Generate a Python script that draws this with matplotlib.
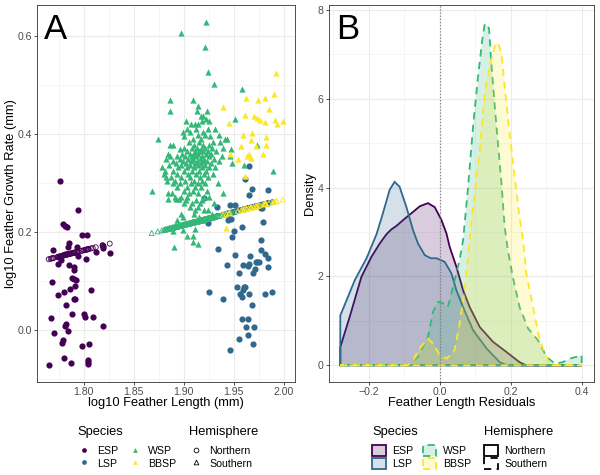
import numpy as np
import matplotlib
matplotlib.use("Agg")
import matplotlib.pyplot as plt
from matplotlib.lines import Line2D
from matplotlib.patches import Patch
from matplotlib.colors import to_rgba

plt.rcParams['font.family'] = ['Liberation Sans', 'DejaVu Sans']

# ---------------- data ----------------
species = ["ESP", "LSP", "WSP", "BBSP"]
species_colors = ["#440154", "#31688E", "#35B779", "#FDE725"]
species_hemisphere = ["Northern", "Northern", "Southern", "Southern"]
hemisphere_labels = ["Northern", "Southern"]

# fitted line (mixed-model prediction) used for the open markers
fit_intercept = -0.773
fit_slope = 0.52

esp_x = [1.776, 1.7947, 1.779, 1.781, 1.783, 1.798, 1.803, 1.785, 1.784, 1.769,
         1.819, 1.819, 1.826, 1.794, 1.802, 1.777, 1.774, 1.785, 1.790, 1.790,
         1.768, 1.788, 1.790, 1.792, 1.791, 1.786, 1.807, 1.780, 1.774, 1.790,
         1.791, 1.782, 1.767, 1.788, 1.800, 1.801, 1.809, 1.782, 1.781, 1.784,
         1.819, 1.770, 1.779, 1.778, 1.798, 1.805, 1.780, 1.787, 1.804, 1.804,
         1.804, 1.765, 1.775, 1.781, 1.793, 1.812]
esp_y = [0.304, 0.246, 0.216, 0.213, 0.211, 0.195, 0.195, 0.178, 0.169, 0.163,
         0.172, 0.168, 0.157, 0.152, 0.145, 0.143, 0.135, 0.132, 0.128, 0.123,
         0.099, 0.107, 0.104, 0.102, 0.091, 0.085, 0.082, 0.078, 0.071, 0.063,
         0.063, 0.052, 0.024, 0.033, 0.033, 0.027, 0.028, 0.012, 0.009, -0.001,
         0.008, -0.005, -0.019, -0.027, -0.033, -0.028, -0.056, -0.066, -0.060, -0.064,
         -0.068, -0.071, 0.150, 0.155, 0.169, 0.160]

lsp_x = [1.9657, 1.9617, 1.968, 1.984, 1.965, 1.920, 1.9463, 1.9513, 1.9333, 1.977,
         1.9787, 1.984, 1.9447, 1.9477, 1.944, 1.979, 1.9243, 1.9587, 1.9507, 1.9487,
         1.9777, 1.934, 1.9513, 1.977, 1.981, 1.984, 1.9667, 1.9737, 1.972, 1.975,
         1.9433, 1.959, 1.9643, 1.9657, 1.9717, 1.9847, 1.9553, 1.969, 1.953, 1.960,
         1.961, 1.959, 1.9257, 1.9563, 1.9653, 1.981, 1.9887, 1.958, 1.9397, 1.9687,
         1.9587, 1.9643, 1.9627, 1.9707, 1.9553, 1.9643, 1.9697, 1.9463]
lsp_y = [0.335, 0.308, 0.288, 0.286, 0.275, 0.270, 0.255, 0.255, 0.252, 0.249,
         0.249, 0.259, 0.237, 0.226, 0.224, 0.220, 0.218, 0.210, 0.203, 0.191,
         0.184, 0.166, 0.154, 0.163, 0.156, 0.147, 0.151, 0.139, 0.139, 0.139,
         0.132, 0.132, 0.131, 0.135, 0.125, 0.129, 0.116, 0.116, 0.088, 0.088,
         0.088, 0.082, 0.078, 0.074, 0.074, 0.074, 0.078, 0.067, 0.064, 0.052,
         0.022, 0.022, 0.007, 0.007, -0.018, -0.010, -0.028, -0.041]

wsp_x = [1.922,
         1.897,
         1.921,
         1.924,
         1.930,
         1.958,
         1.886, 1.909,
         1.914,
         1.886, 1.913, 1.923,
         1.919, 1.917,
         1.951, 1.922,
         1.902, 1.925, 1.918,
         1.907, 1.914, 1.911,
         1.912, 1.924, 1.931, 1.903,
         1.899, 1.906, 1.919,
         1.935, 1.921, 1.914,
         1.900, 1.926,
         1.874, 1.941, 1.943, 1.909, 1.917,
         1.905, 1.915, 1.929, 1.936,
         1.886, 1.889, 1.910, 1.919, 1.925, 1.973,
         1.900, 1.908, 1.913, 1.921, 1.928, 1.939,
         1.947, 1.896, 1.917,
         1.903, 1.911, 1.915, 1.919, 1.924, 1.932,
         1.884, 1.898, 1.906, 1.910, 1.914, 1.922, 1.927,
         1.886, 1.893, 1.901, 1.908, 1.912, 1.918, 1.925, 1.938, 1.946,
         1.882, 1.896, 1.904, 1.909, 1.916, 1.920, 1.930,
         1.889, 1.899, 1.907, 1.913, 1.919, 1.923, 1.935,
         1.948, 1.892, 1.902, 1.911, 1.917, 1.927,
         1.960, 1.885, 1.897, 1.906, 1.914, 1.921,
         1.878, 1.894, 1.903, 1.910, 1.918, 1.925, 1.931,
         1.989, 1.881, 1.889, 1.900, 1.908, 1.915, 1.922,
         1.880, 1.893, 1.904, 1.912, 1.920, 1.929,
         1.882, 1.887, 1.897, 1.906, 1.916, 1.924,
         1.883, 1.891, 1.901, 1.910, 1.918,
         1.889, 1.896, 1.907, 1.914, 1.921, 1.934,
         1.893, 1.903, 1.911, 1.917,
         1.868, 1.900, 1.909, 1.923,
         1.884, 1.888, 1.939, 1.905, 1.914,
         1.891, 1.897, 1.903, 1.920, 1.925,
         1.884, 1.892, 1.895,
         1.902, 1.912, 1.918,
         1.900, 1.908, 1.916, 1.930,
         1.906, 1.914,
         1.911, 1.920, 1.924,
         1.897, 1.910, 1.928,
         1.899, 1.915,
         1.893, 1.918,
         1.911,
         1.899,
         1.889,
         1.903, 1.909,
         1.909,
         1.914,
         1.890]
wsp_y = [0.629,
         0.605,
         0.578,
         0.526,
         0.501,
         0.491,
         0.469, 0.469,
         0.457,
         0.446, 0.446, 0.446,
         0.437, 0.437,
         0.430, 0.430,
         0.426, 0.426, 0.426,
         0.420, 0.420, 0.420,
         0.410, 0.410, 0.410, 0.410,
         0.405, 0.405, 0.405,
         0.399, 0.399, 0.399,
         0.395, 0.395,
         0.389, 0.389, 0.389, 0.389, 0.389,
         0.383, 0.383, 0.383, 0.383,
         0.378, 0.378, 0.378, 0.378, 0.378, 0.378,
         0.372, 0.372, 0.372, 0.372, 0.372, 0.372,
         0.369, 0.369, 0.369,
         0.365, 0.365, 0.365, 0.365, 0.365, 0.365,
         0.360, 0.360, 0.360, 0.360, 0.360, 0.360, 0.360,
         0.355, 0.355, 0.355, 0.355, 0.355, 0.355, 0.355, 0.355, 0.355,
         0.350, 0.350, 0.350, 0.350, 0.350, 0.350, 0.350,
         0.345, 0.345, 0.345, 0.345, 0.345, 0.345, 0.345,
         0.341, 0.341, 0.341, 0.341, 0.341, 0.341,
         0.337, 0.337, 0.337, 0.337, 0.337, 0.337,
         0.332, 0.332, 0.332, 0.332, 0.332, 0.332, 0.332,
         0.325, 0.325, 0.325, 0.325, 0.325, 0.325, 0.325,
         0.318, 0.318, 0.318, 0.318, 0.318, 0.318,
         0.312, 0.312, 0.312, 0.312, 0.312, 0.312,
         0.305, 0.305, 0.305, 0.305, 0.305,
         0.300, 0.300, 0.300, 0.300, 0.300, 0.300,
         0.292, 0.292, 0.292, 0.292,
         0.284, 0.284, 0.284, 0.284,
         0.280, 0.280, 0.280, 0.280, 0.280,
         0.272, 0.272, 0.272, 0.272, 0.272,
         0.268, 0.268, 0.268,
         0.266, 0.266, 0.266,
         0.260, 0.260, 0.260, 0.260,
         0.252, 0.252,
         0.245, 0.245, 0.245,
         0.236, 0.236, 0.236,
         0.230, 0.230,
         0.224, 0.224,
         0.207,
         0.205,
         0.203,
         0.192, 0.192,
         0.180,
         0.176,
         0.170]

bbsp_x = [1.9927, 1.9627, 1.9743, 1.981, 1.990, 1.9393, 1.9853, 1.970, 1.9733, 1.976,
          1.981, 1.961, 1.991, 1.993, 1.999, 1.945, 1.9593, 1.968, 1.982, 1.967,
          1.9577, 1.972, 1.9823, 1.946, 1.9543, 1.963, 1.965, 1.967, 1.9797, 1.961,
          1.9427]
bbsp_y = [0.524, 0.473, 0.469, 0.473, 0.482, 0.456, 0.450, 0.437, 0.433, 0.428,
          0.425, 0.439, 0.428, 0.420, 0.427, 0.423, 0.398, 0.403, 0.393, 0.388,
          0.375, 0.375, 0.378, 0.359, 0.350, 0.355, 0.360, 0.352, 0.359, 0.315,
          0.208]

# density curves of feather length residuals
esp_res = [-0.280, -0.2535, -0.2206, -0.1924, -0.169, -0.150, -0.136, -0.120, -0.103, -0.080,
           -0.056, -0.033, -0.014, 0.005, 0.019, 0.028, 0.047, 0.066, 0.0845, 0.113,
           0.150, 0.188, 0.225, 0.244, 0.300, 0.400]
esp_dens = [0.41, 1.09, 1.99, 2.44, 2.74, 2.95, 3.06, 3.15, 3.27, 3.42,
            3.58, 3.65, 3.56, 3.27, 2.97, 2.67, 2.22, 1.69, 1.31, 0.86,
            0.53, 0.30, 0.07, 0.0, 0.0, 0.0]
lsp_res = [-0.280, -0.239, -0.206, -0.178, -0.160, -0.141, -0.127, -0.113, -0.094, -0.075,
           -0.061, -0.042, -0.025, -0.009, 0.014, 0.033, 0.047, 0.066, 0.094, 0.132,
           0.169, 0.190, 0.300, 0.400]
lsp_dens = [1.12, 1.92, 2.41, 2.95, 3.42, 3.95, 4.13, 4.02, 3.57, 3.04,
            2.74, 2.48, 2.41, 2.41, 2.33, 2.07, 1.69, 1.31, 0.79, 0.38,
            0.07, 0.0, 0.0, 0.0]
wsp_res = [-0.280, -0.100, -0.0845, -0.061, -0.033, -0.019, -0.005, 0.009, 0.023, 0.0375,
           0.056, 0.066, 0.080, 0.094, 0.108, 0.120, 0.127, 0.139, 0.146, 0.160,
           0.174, 0.183, 0.192, 0.206, 0.225, 0.249, 0.277, 0.301, 0.324, 0.347,
           0.366, 0.385, 0.400]
wsp_dens = [0.0, 0.0, 0.02, 0.19, 0.64, 1.20, 1.43, 1.40, 1.31, 1.76,
            2.37, 2.82, 4.02, 5.37, 6.50, 7.33, 7.69, 7.59, 6.73, 5.37,
            4.10, 3.12, 2.59, 1.99, 1.31, 0.83, 0.56, 0.19, 0.04, 0.07,
            0.15, 0.19, 0.23]
bbsp_res = [-0.280, -0.090, -0.075, -0.061, -0.033, -0.019, 0.000, 0.019, 0.042, 0.056,
            0.070, 0.080, 0.0845, 0.094, 0.113, 0.127, 0.141, 0.155, 0.164, 0.174,
            0.183, 0.197, 0.211, 0.225, 0.235, 0.244, 0.263, 0.282, 0.305, 0.324,
            0.400]
bbsp_dens = [0.0, 0.0, 0.10, 0.34, 0.60, 0.49, 0.23, 0.15, 0.34, 0.94,
             1.69, 2.44, 2.82, 3.57, 4.85, 6.13, 6.73, 7.18, 7.27, 7.03,
             6.28, 5.22, 4.25, 3.34, 2.82, 2.07, 1.31, 0.56, 0.11, 0.0,
             0.0]

scatter_x = [esp_x, lsp_x, wsp_x, bbsp_x]
scatter_y = [esp_y, lsp_y, wsp_y, bbsp_y]
dens_x = [esp_res, lsp_res, wsp_res, bbsp_res]
dens_y = [esp_dens, lsp_dens, wsp_dens, bbsp_dens]

shape_of = {"Northern": "o", "Southern": "^"}
dash_of = {"Northern": "-", "Southern": (0, (4, 3))}

# ---------------- figure ----------------
fig = plt.figure(figsize=(6.0, 4.75), dpi=100)
axA = fig.add_axes([37 / 600, 1 - 382 / 475, (295 - 37) / 600, (382 - 5) / 475])
axB = fig.add_axes([329 / 600, 1 - 382 / 475, (594 - 329) / 600, (382 - 5) / 475])

TICK_FS = 7.6
TITLE_FS = 9.3


def style(ax):
    ax.set_facecolor("white")
    for s in ax.spines.values():
        s.set_color("#333333")
        s.set_linewidth(0.6)
    ax.grid(which="major", color="#ebebeb", linewidth=0.8)
    ax.grid(which="minor", color="#f2f2f2", linewidth=0.5)
    ax.set_axisbelow(True)
    ax.tick_params(which="major", length=2.3, width=0.6, color="#333333",
                   labelsize=TICK_FS, labelcolor="#4d4d4d", pad=1.5)
    ax.tick_params(which="minor", length=0)


# Panel A
style(axA)
for sp, col, hemi, xs, ys in zip(species, species_colors, species_hemisphere, scatter_x, scatter_y):
    axA.scatter(xs, ys, s=20, marker=shape_of[hemi], color=col, linewidths=0, zorder=3)
for sp, col, hemi, xs in zip(species, species_colors, species_hemisphere, scatter_x):
    xs = np.asarray(xs)
    axA.scatter(xs, fit_intercept + fit_slope * xs, s=13, marker=shape_of[hemi],
                facecolors="none", edgecolors=col, linewidths=0.6, zorder=4)
axA.set_xlim(1.7533, 2.0113)
axA.set_ylim(-0.1055, 0.663)
axA.set_xticks([1.80, 1.85, 1.90, 1.95, 2.00])
axA.set_xticks([1.775, 1.825, 1.875, 1.925, 1.975], minor=True)
axA.set_yticks([0.0, 0.2, 0.4, 0.6])
axA.set_yticks([-0.1, 0.1, 0.3, 0.5], minor=True)
axA.set_xticklabels(["1.80", "1.85", "1.90", "1.95", "2.00"])
axA.set_yticklabels(["0.0", "0.2", "0.4", "0.6"])
axA.set_xlabel("log10 Feather Length (mm)", fontsize=TITLE_FS)
axA.set_ylabel("log10 Feather Growth Rate (mm)", fontsize=TITLE_FS)
axA.xaxis.set_label_coords(0.5, -(403 - 382) / 377, transform=axA.transAxes)
axA.xaxis.label.set_va("center")
axA.yaxis.set_label_coords(-(37 - 11) / 258, 0.5, transform=axA.transAxes)
axA.yaxis.label.set_va("center")
axA.text(0.028, 0.978, "A", transform=axA.transAxes, fontsize=25, va="top", ha="left")

# Panel B
style(axB)
for sp, col, hemi, xs, ys in zip(species, species_colors, species_hemisphere, dens_x, dens_y):
    xs = list(xs)
    ys = list(ys)
    px = [xs[0]] + xs + [xs[-1]]
    py = [0.0] + ys + [0.0]
    axB.fill(px, py, facecolor=to_rgba(col, 0.2), edgecolor=col, linewidth=1.3,
             linestyle=dash_of[hemi], closed=True, zorder=3)
axB.axvline(0, color="#808080", linestyle=(0, (1, 1.5)), linewidth=0.9, zorder=5)
axB.set_xlim(-0.3118, 0.4347)
axB.set_ylim(-0.376, 8.11)
axB.set_xticks([-0.2, 0.0, 0.2, 0.4])
axB.set_xticks([-0.3, -0.1, 0.1, 0.3], minor=True)
axB.set_yticks([0, 2, 4, 6, 8])
axB.set_yticks([1, 3, 5, 7], minor=True)
axB.set_xticklabels(["\u22120.2", "0.0", "0.2", "0.4"])
axB.set_yticklabels(["0", "2", "4", "6", "8"])
axB.set_xlabel("Feather Length Residuals", fontsize=TITLE_FS)
axB.set_ylabel("Density", fontsize=TITLE_FS)
axB.xaxis.set_label_coords(0.5, -(403 - 382) / 377, transform=axB.transAxes)
axB.xaxis.label.set_va("center")
axB.yaxis.set_label_coords(-(329 - 310) / 265, 0.5, transform=axB.transAxes)
axB.yaxis.label.set_va("center")
axB.text(0.028, 0.978, "B", transform=axB.transAxes, fontsize=25, va="top", ha="left")

# ---------------- legends ----------------
LEG_FS = 7.6
LEG_TITLE_FS = 9.3
common = dict(loc="upper left", frameon=False, fontsize=LEG_FS, title_fontsize=LEG_TITLE_FS,
              borderpad=0, borderaxespad=0, handlelength=1.3, handleheight=1.3,
              labelspacing=0.1, handletextpad=0.6, alignment="left")
top_y = 1 - 426 / 475

hA_sp = [Line2D([], [], linestyle="", marker=shape_of[h], markersize=3.4, color=c,
                markeredgewidth=0)
         for c, h in zip(species_colors, species_hemisphere)]
legA1 = fig.legend(hA_sp, species, title="Species", ncol=2, columnspacing=0.9,
                   bbox_to_anchor=(77 / 600, top_y), **common)
hA_h = [Line2D([], [], linestyle="", marker=shape_of[h], markersize=3.4,
               markerfacecolor="none", markeredgecolor="black", markeredgewidth=0.6)
        for h in hemisphere_labels]
legA2 = fig.legend(hA_h, hemisphere_labels, title="Hemisphere",
                   bbox_to_anchor=(189 / 600, top_y), **common)

hB_sp = [Patch(facecolor=to_rgba(c, 0.2), edgecolor=c, linewidth=1.3, linestyle=dash_of[h])
         for c, h in zip(species_colors, species_hemisphere)]
legB1 = fig.legend(hB_sp, species, title="Species", ncol=2, columnspacing=0.9,
                   bbox_to_anchor=(372 / 600, top_y), **common)
hB_h = [Patch(facecolor="white", edgecolor="black", linewidth=1.3, linestyle=dash_of[h])
        for h in hemisphere_labels]
legB2 = fig.legend(hB_h, hemisphere_labels, title="Hemisphere",
                   bbox_to_anchor=(484 / 600, top_y), **common)
for leg in (legA1, legA2, legB1, legB2):
    leg._legend_box.sep = 5

fig.savefig("out.png", dpi=100, facecolor="white")
